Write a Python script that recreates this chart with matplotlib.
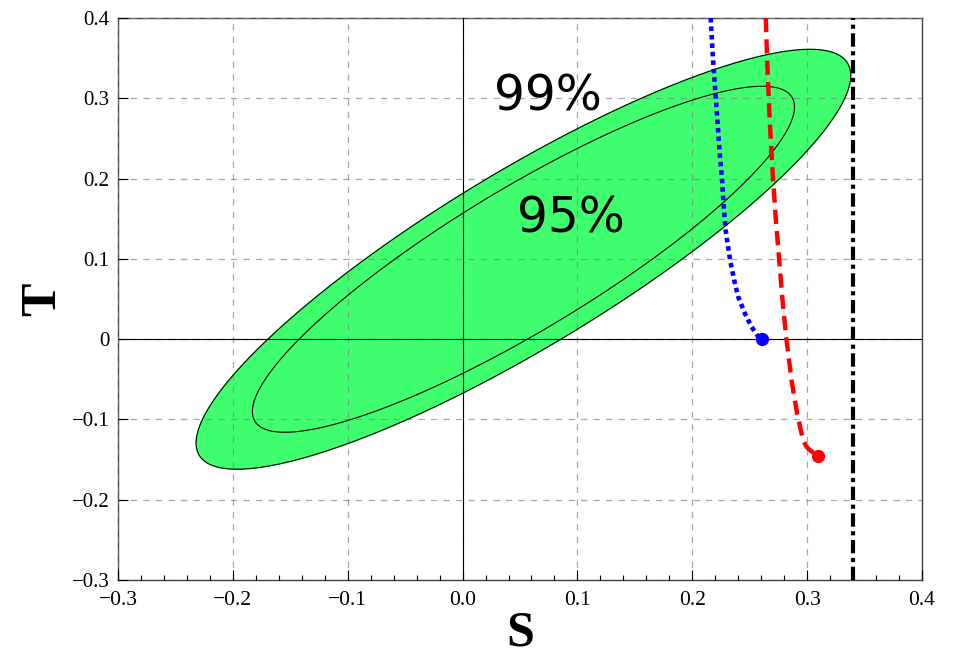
import matplotlib
matplotlib.use('Agg')
import matplotlib.pyplot as plt
from matplotlib.ticker import MultipleLocator
import numpy as np

# ellipse parameters: centre, half-widths, correlation
center_S, center_T = 0.053, 0.0995
ell99 = dict(a=0.285, b=0.2615, rho=0.875)
ell95 = dict(a=0.236, b=0.2155, rho=0.88)

# blue dotted curve (S, T)
blue_S = [0.216, 0.218, 0.221, 0.224, 0.226, 0.227, 0.229, 0.233, 0.2365, 0.240, 0.2458, 0.2516, 0.2565, 0.2605]
blue_T = [0.40, 0.35, 0.29, 0.23, 0.198, 0.173, 0.136, 0.098, 0.0735, 0.0527, 0.032, 0.0153, 0.005, 0.0]

# red dashed curve (S, T)
red_S = [0.264, 0.265, 0.2675, 0.2704, 0.2728, 0.2757, 0.2791, 0.2821, 0.2864, 0.2913, 0.2965, 0.2995, 0.3023, 0.3096]
red_T = [0.40, 0.356, 0.27, 0.198, 0.148, 0.098, 0.040, -0.001, -0.051, -0.0925, -0.126, -0.134, -0.138, -0.1457]

# vertical bound
S_bound = 0.34

x_ticks = [-0.3, -0.2, -0.1, 0.0, 0.1, 0.2, 0.3, 0.4]
x_labels = ['\u22120.3', '\u22120.2', '\u22120.1', '0.0', '0.1', '0.2', '0.3', '0.4']
y_ticks = [-0.3, -0.2, -0.1, 0.0, 0.1, 0.2, 0.3, 0.4]
y_labels = ['\u22120.3', '\u22120.2', '\u22120.1', '0', '0.1', '0.2', '0.3', '0.4']


def ellipse(p):
    t = np.linspace(0, 2 * np.pi, 400)
    xs = center_S + p['a'] * np.cos(t)
    ys = center_T + p['b'] * (p['rho'] * np.cos(t) + np.sqrt(1 - p['rho'] ** 2) * np.sin(t))
    return xs, ys


fig = plt.figure(figsize=(9.57, 6.59), dpi=100)
ax = fig.add_axes([0.1233, 0.1199, 0.8401, 0.8528])

green = '#40ff6e'
x99, y99 = ellipse(ell99)
ax.fill(x99, y99, color=green, zorder=1)
ax.plot(x99, y99, color='black', lw=0.8, zorder=3)
x95, y95 = ellipse(ell95)
ax.plot(x95, y95, color='black', lw=0.8, zorder=3)

ax.axhline(0, color='black', lw=0.8, zorder=3)
ax.axvline(0, color='black', lw=0.8, zorder=3)

ax.plot(blue_S, blue_T, color='blue', lw=3.3, linestyle=(0, (1, 0.85)), zorder=4)
ax.plot([blue_S[-1]], [blue_T[-1]], 'o', color='blue', ms=8.5, zorder=5)
ax.plot(red_S, red_T, color='red', lw=3.2, linestyle=(0, (3.2, 1.6)), zorder=4)
ax.plot([red_S[-1]], [red_T[-1]], 'o', color='red', ms=8.5, zorder=5)
ax.axvline(S_bound, color='black', lw=3.0, linestyle=(0, (3.2, 1.1, 1, 1.1)), zorder=4)

ax.text(0.0745, 0.302, '99%', fontsize=35, ha='center', va='center', family='DejaVu Sans', zorder=6)
ax.text(0.094, 0.150, '95%', fontsize=35, ha='center', va='center', family='DejaVu Sans', zorder=6)

ax.set_xlim(-0.3, 0.4)
ax.set_ylim(-0.3, 0.4)
ax.set_xticks(x_ticks)
ax.set_xticklabels(x_labels, family='Liberation Serif', fontsize=15.5)
ax.set_yticks(y_ticks)
ax.set_yticklabels(y_labels, family='Liberation Serif', fontsize=15)
ax.xaxis.set_minor_locator(MultipleLocator(0.02))
ax.tick_params(which='major', direction='in', length=7, width=0.8)
ax.tick_params(axis='x', which='major', pad=8)
ax.tick_params(axis='y', which='major', pad=6)
ax.tick_params(which='minor', direction='in', length=3.5, width=0.8)
ax.tick_params(axis='y', which='minor', left=False)

ax.grid(True, which='major', color='#808080', alpha=0.7, lw=0.9,
        linestyle=(0, (5, 5)), zorder=2)
ax.set_axisbelow(False)
for sp in ax.spines.values():
    sp.set_color('#444444')
    sp.set_linewidth(1.0)

ax.set_xlabel('S', family='Liberation Serif', fontweight='bold', fontsize=36, labelpad=0)
ax.set_ylabel('T', family='Liberation Serif', fontweight='bold', fontsize=36, labelpad=4)

fig.savefig('out.png', dpi=100)
